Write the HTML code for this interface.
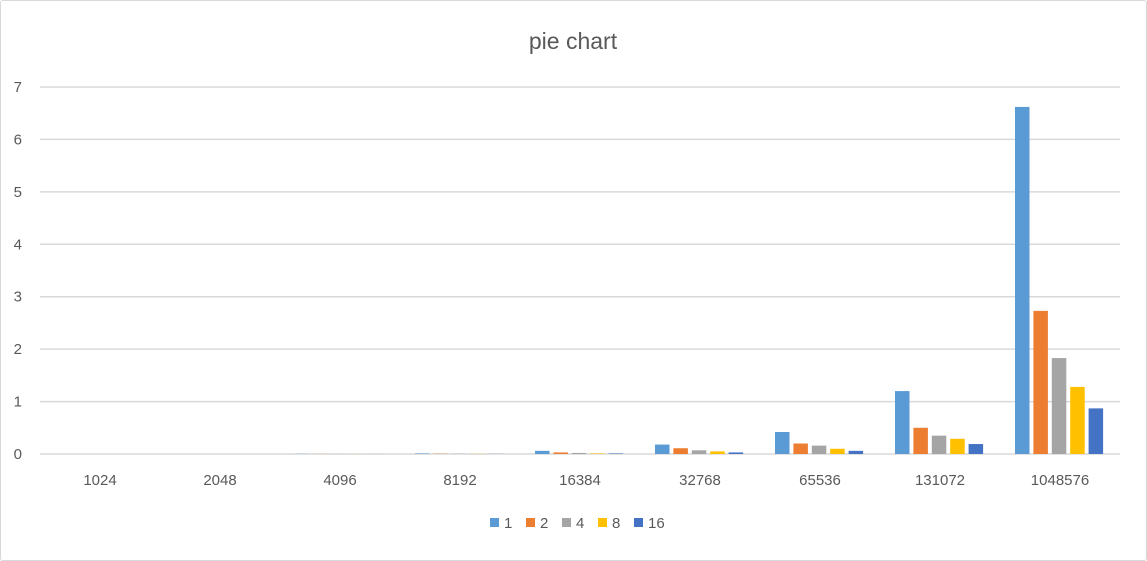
<!DOCTYPE html>
<html><head><meta charset="utf-8"><style>
html,body{margin:0;padding:0;background:#fff;}
body{width:1147px;height:561px;overflow:hidden;font-family:"Liberation Sans",sans-serif;}
#frame{position:absolute;left:0;top:0;width:1145px;height:559px;border:1px solid #d9d9d9;border-radius:3px;}
</style></head><body>
<div id="frame"></div>
<svg id="chart" width="1147" height="561" style="position:absolute;left:0;top:0">
<text x="573" y="49" text-anchor="middle" font-size="23" fill="#595959" font-family="Liberation Sans, sans-serif">pie chart</text>
</svg>
<script>
const categories=["1024","2048","4096","8192","16384","32768","65536","131072","1048576"];
const seriesNames=["1","2","4","8","16"];
const s1=[0,0,0.003,0.01,0.06,0.18,0.42,1.2,6.62];
const s2=[0,0,0.002,0.005,0.03,0.11,0.2,0.5,2.73];
const s4=[0,0,0.002,0.004,0.02,0.07,0.16,0.35,1.83];
const s8=[0,0,0.001,0.003,0.01,0.05,0.1,0.29,1.28];
const s16=[0,0,0.001,0.002,0.01,0.03,0.06,0.19,0.87];
const yTicks=[0,1,2,3,4,5,6,7];
const colors=["#5b9bd5","#ed7d31","#a5a5a5","#ffc000","#4472c4"];
const series=[s1,s2,s4,s8,s16];
const svg=document.getElementById('chart');
const NS="http://www.w3.org/2000/svg";
const left=40,right=1120,y0=454,y7=87;
function y(v){return y0-(v/7)*(y0-y7);}
const band=(right-left)/categories.length;
function xc(i){return left+band*(i+0.5);}
function mk(t,a){const e=document.createElementNS(NS,t);for(const k in a)e.setAttribute(k,a[k]);svg.appendChild(e);return e;}
yTicks.forEach(t=>{
  const l=mk('line',{x1:left,x2:right,y1:y(t),y2:y(t),stroke:'#d9d9d9','stroke-width':1.5});
  
  
  const tx=mk('text',{x:22,y:y(t)+5,'text-anchor':'end','font-size':15,fill:'#595959'});
  tx.textContent=t;
  
  
});
categories.forEach((c,i)=>{
  const tx=mk('text',{x:xc(i),y:485,'text-anchor':'middle','font-size':15,fill:'#595959'});
  tx.textContent=c;
  
  
  series.forEach((s,j)=>{
    const bx=xc(i)-45+j*18.4;
    const r=mk('rect',{x:bx,y:y(s[i]),width:14.5,height:y0-y(s[i]),fill:colors[j]});
    
    
  });
});
const lx=[490,526,562,598,634];
seriesNames.forEach((n,j)=>{
  const r=mk('rect',{x:lx[j],y:518,width:9,height:9,fill:colors[j]});
  
  
  const t=mk('text',{x:lx[j]+14,y:528,'font-size':15,fill:'#595959'});
  t.textContent=n;
  
  
});
</script>
</body></html>
